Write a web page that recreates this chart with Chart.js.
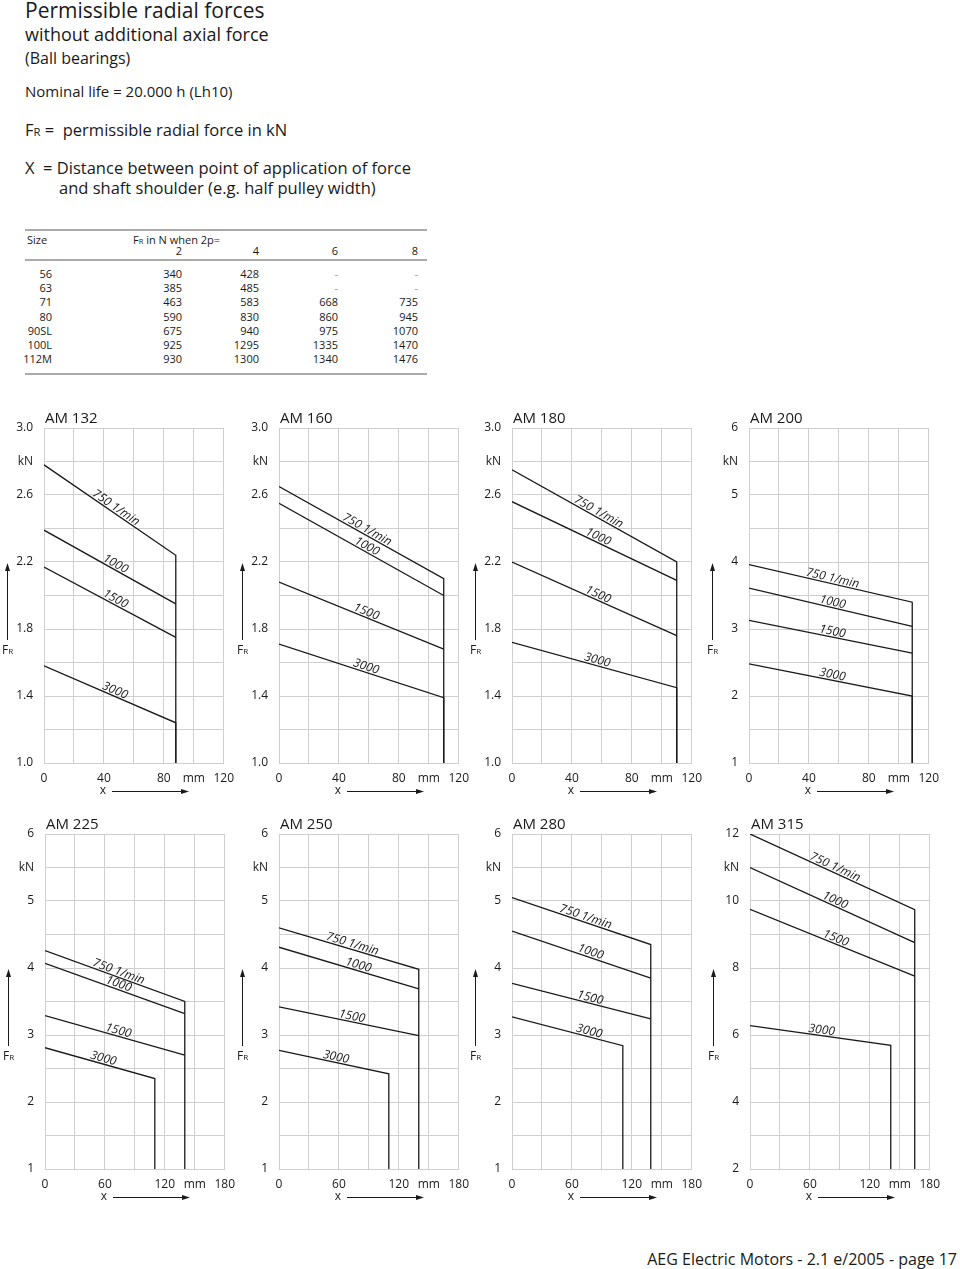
<!DOCTYPE html>
<html>
<head>
<meta charset="utf-8">
<title>Permissible radial forces</title>
<script src="https://cdn.jsdelivr.net/npm/chart.js@4.4.1/dist/chart.umd.min.js"></script>
<style>
  body { margin: 0; background: #fff; font-family: 'Open Sans', sans-serif; color: #1a1a1a; }
  #page { position: relative; width: 960px; height: 1269px; overflow: hidden; }
  .t { position: absolute; white-space: nowrap; line-height: 1; }
  .sub { font-size: 0.68em; }
  .rule { position: absolute; left: 25px; width: 402px; height: 2px; background: #aaa; }
  .cell { position: absolute; font-size: 11px; line-height: 11px; white-space: nowrap; text-align: right; }
  canvas { position: absolute; }
</style>
</head>
<body>
<div id="page">
  <div class="t" style="left:25px;top:0px;font-size:21px">Permissible radial forces</div>
  <div class="t" style="left:25px;top:25px;font-size:18px">without additional axial force</div>
  <div class="t" style="left:25px;top:50px;font-size:16px">(Ball bearings)</div>
  <div class="t" style="left:25px;top:84px;font-size:15px">Nominal life = 20.000 h (Lh10)</div>
  <div class="t" style="left:25px;top:122px;font-size:16.5px">F<span class="sub">R</span> =&nbsp; permissible radial force in kN</div>
  <div class="t" style="left:25px;top:160px;font-size:16.5px">X&nbsp; = Distance between point of application of force</div>
  <div class="t" style="left:59px;top:180px;font-size:16.5px">and shaft shoulder (e.g. half pulley width)</div>

  <div class="rule" style="top:229px"></div>
  <div class="rule" style="top:259px"></div>
  <div class="rule" style="top:373px"></div>
  <div class="cell" style="left:27px;top:234px;text-align:left">Size</div>
  <div class="cell" style="left:133px;top:234px;text-align:left">F<span class="sub">R</span> in N when 2p=</div>
  <div id="table"></div>

  <div class="t" style="right:3px;top:1251px;font-size:16px">AEG Electric Motors - 2.1 e/2005 - page 17</div>
</div>

<script>
// chart titles and curve names
const motorSizes = ['AM 132', 'AM 160', 'AM 180', 'AM 200', 'AM 225', 'AM 250', 'AM 280', 'AM 315'];
const speedLabels = ['750 1/min', '1000', '1500', '3000'];

// axis ranges
const xMaxMm = [120, 120, 120, 120, 180, 180, 180, 180];
const yMinKn = [1, 1, 1, 1, 1, 1, 1, 2];
const yMaxKn = [3, 3, 3, 6, 6, 6, 6, 12];
const yStepKn = [0.2, 0.2, 0.2, 0.5, 0.5, 0.5, 0.5, 1];

// tick labels (y: top to bottom, x: left to right)
const yTicksSmall = ['3.0', 'kN', '2.6', '', '2.2', '', '1.8', '', '1.4', '', '1.0'];
const yTicksMid = ['6', 'kN', '5', '', '4', '', '3', '', '2', '', '1'];
const yTicksLarge = ['12', 'kN', '10', '', '8', '', '6', '', '4', '', '2'];
const xTicks120 = ['0', '', '40', '', '80', 'mm', '120'];
const xTicks180 = ['0', '', '60', '', '120', 'mm', '180'];

// permissible FR in kN at x = 0 and where each curve stops
const fr750Start  = [2.78, 2.65, 2.75, 3.96, 4.26, 4.60, 5.05, 12.0];
const fr750End    = [2.24, 2.10, 2.20, 3.40, 3.50, 3.98, 4.35, 9.74];
const fr1000Start = [2.39, 2.55, 2.56, 3.61, 4.07, 4.31, 4.55, 11.0];
const fr1000End   = [1.95, 2.00, 2.09, 3.04, 3.32, 3.69, 3.85, 8.76];
const fr1500Start = [2.17, 2.08, 2.20, 3.13, 3.29, 3.42, 3.77, 9.75];
const fr1500End   = [1.75, 1.68, 1.76, 2.64, 2.70, 2.99, 3.24, 7.76];
const fr3000Start = [1.58, 1.71, 1.72, 2.48, 2.81, 2.77, 3.27, 6.28];
const fr3000End   = [1.24, 1.39, 1.45, 2.00, 2.35, 2.42, 2.84, 5.69];

// x (mm) where the curves end
const xEndMain = [88, 110, 110, 109, 140, 140, 139, 165];
const xEnd3000 = [88, 110, 110, 109, 110, 110, 111, 141];

// table: size, FR in N for 2p = 2, 4, 6, 8
const tableRows = [
  ['56', '340', '428', '-', '-'],
  ['63', '385', '485', '-', '-'],
  ['71', '463', '583', '668', '735'],
  ['80', '590', '830', '860', '945'],
  ['90SL', '675', '940', '975', '1070'],
  ['100L', '925', '1295', '1335', '1470'],
  ['112M', '930', '1300', '1340', '1476']
];
const tablePoles = ['2', '4', '6', '8'];

// layout (not data)
const colRight = [52, 182, 259, 338, 418];
const rowCenter = [274, 288, 302, 317, 331, 345, 359];
const plotLeft = [44, 279, 512, 749, 45, 279, 512, 750];
const plotTop = [428, 428, 428, 428, 834, 834, 834, 834];
const plotW = 186;
const plotH = 335;
// x position (in mm) of each curve label
const labelAnchor = [
  [46, 46, 46, 46], [57, 57, 57, 57], [56, 56, 56, 56], [55, 55, 55, 55],
  [72, 72, 72, 57], [72, 78, 72, 56], [72, 77, 77, 76], [83, 83, 84, 71]
];

// build the table
const tbl = document.getElementById('table');
const addCell = (text, right, center) => {
  const d = document.createElement('div');
  d.className = 'cell';
  d.textContent = text;
  d.style.right = (960 - right) + 'px';
  d.style.top = (center - 6) + 'px';
  if (text === '-') d.style.color = '#999';
  tbl.appendChild(d);
};
tablePoles.forEach((p, i) => addCell(p, colRight[i + 1], 251));
tableRows.forEach((row, r) => row.forEach((v, c) => addCell(v, colRight[c], rowCenter[r])));

Chart.defaults.font.family = "'Open Sans', sans-serif";
Chart.defaults.color = '#1a1a1a';

// title, curve labels and the FR / x arrows
const chartDecor = {
  id: 'chartDecor',
  afterDatasetsDraw(chart, args, opts) {
    const { ctx, chartArea: a, scales: { x, y } } = chart;
    ctx.save();
    ctx.fillStyle = '#1a1a1a';
    ctx.strokeStyle = '#1a1a1a';
    ctx.lineWidth = 1;

    ctx.font = "15px 'Open Sans'";
    ctx.textAlign = 'left';
    ctx.textBaseline = 'middle';
    ctx.fillText(opts.title, a.left + 1, a.top - 9);

    ctx.font = "italic 12px 'Open Sans'";
    ctx.textAlign = 'center';
    ctx.textBaseline = 'alphabetic';
    speedLabels.forEach((text, i) => {
      const [p0, p1] = chart.data.datasets[i].data;
      const xv = opts.anchors[i];
      const yv = p0.y + (p1.y - p0.y) * (xv - p0.x) / (p1.x - p0.x);
      const ang = Math.atan2(y.getPixelForValue(p1.y) - y.getPixelForValue(p0.y),
                             x.getPixelForValue(p1.x) - x.getPixelForValue(p0.x));
      ctx.save();
      ctx.translate(x.getPixelForValue(xv), y.getPixelForValue(yv));
      ctx.rotate(ang);
      ctx.fillText(text, 0, -2);
      ctx.restore();
    });

    // FR arrow
    const fx = Math.round(a.left - 37) + 0.5;
    ctx.beginPath();
    ctx.moveTo(fx, a.top + 212);
    ctx.lineTo(fx, a.top + 142);
    ctx.stroke();
    ctx.beginPath();
    ctx.moveTo(fx, a.top + 135);
    ctx.lineTo(fx - 2.5, a.top + 143);
    ctx.lineTo(fx + 2.5, a.top + 143);
    ctx.closePath();
    ctx.fill();
    ctx.textAlign = 'left';
    ctx.textBaseline = 'alphabetic';
    ctx.font = "12px 'Open Sans'";
    const wF = ctx.measureText('F').width;
    ctx.font = "8px 'Open Sans'";
    const wR = ctx.measureText('R').width;
    const sx = fx - (wF + wR) / 2;
    ctx.font = "12px 'Open Sans'";
    ctx.fillText('F', sx, a.top + 226);
    ctx.font = "8px 'Open Sans'";
    ctx.fillText('R', sx + wF, a.top + 226);

    // x arrow
    const ay = Math.round(a.bottom + 28) + 0.5;
    ctx.font = "12px 'Open Sans'";
    ctx.textAlign = 'center';
    ctx.textBaseline = 'middle';
    ctx.fillText('x', a.left + 59, ay - 1);
    ctx.beginPath();
    ctx.moveTo(a.left + 68, ay);
    ctx.lineTo(a.left + 138, ay);
    ctx.stroke();
    ctx.beginPath();
    ctx.moveTo(a.left + 145, ay);
    ctx.lineTo(a.left + 137, ay - 2.5);
    ctx.lineTo(a.left + 137, ay + 2.5);
    ctx.closePath();
    ctx.fill();
    ctx.restore();
  }
};

const page = document.getElementById('page');

motorSizes.forEach((name, i) => {
  const yMin = yMinKn[i];
  const yMax = yMaxKn[i];
  const yStep = yStepKn[i];
  const xMax = xMaxMm[i];
  const yLabels = yMax === 3 ? yTicksSmall : (yMax === 6 ? yTicksMid : yTicksLarge);
  const xLabels = xMax === 120 ? xTicks120 : xTicks180;

  const canvas = document.createElement('canvas');
  canvas.width = plotW + 56;
  canvas.height = plotH + 68;
  canvas.style.left = (plotLeft[i] - 44) + 'px';
  canvas.style.top = (plotTop[i] - 28) + 'px';
  page.appendChild(canvas);

  const curve = (data) => ({
    data: data,
    borderColor: '#1a1a1a',
    borderWidth: 1.3,
    pointRadius: 0,
    tension: 0,
    fill: false
  });

  new Chart(canvas.getContext('2d'), {
    type: 'line',
    data: {
      datasets: [
        curve([{ x: 0, y: fr750Start[i] }, { x: xEndMain[i], y: fr750End[i] }, { x: xEndMain[i], y: yMin }]),
        curve([{ x: 0, y: fr1000Start[i] }, { x: xEndMain[i], y: fr1000End[i] }]),
        curve([{ x: 0, y: fr1500Start[i] }, { x: xEndMain[i], y: fr1500End[i] }]),
        curve([{ x: 0, y: fr3000Start[i] }, { x: xEnd3000[i], y: fr3000End[i] }, { x: xEnd3000[i], y: yMin }])
      ]
    },
    plugins: [chartDecor],
    options: {
      responsive: false,
      animation: false,
      devicePixelRatio: 1,
      layout: { padding: { left: 4, top: 28, right: 12, bottom: 10 } },
      scales: {
        x: {
          type: 'linear',
          min: 0,
          max: xMax,
          ticks: {
            stepSize: xMax / 6,
            autoSkip: false,
            maxRotation: 0,
            padding: 8,
            font: { size: 12 },
            callback: (v) => xLabels[Math.round(v / (xMax / 6))]
          },
          grid: { color: '#cfcfcf', drawTicks: false },
          border: { color: '#cfcfcf' },
          afterFit: (s) => { s.height = 30; }
        },
        y: {
          type: 'linear',
          min: yMin,
          max: yMax,
          ticks: {
            stepSize: yStep,
            autoSkip: false,
            padding: 11,
            font: { size: 12 },
            callback: (v) => yLabels[Math.round((yMax - v) / yStep)]
          },
          grid: { color: '#cfcfcf', drawTicks: false },
          border: { color: '#cfcfcf' },
          afterFit: (s) => { s.width = 40; }
        }
      },
      plugins: {
        legend: { display: false },
        tooltip: { enabled: false },
        chartDecor: { title: name, anchors: labelAnchor[i] }
      }
    }
  });
});
</script>
</body>
</html>
